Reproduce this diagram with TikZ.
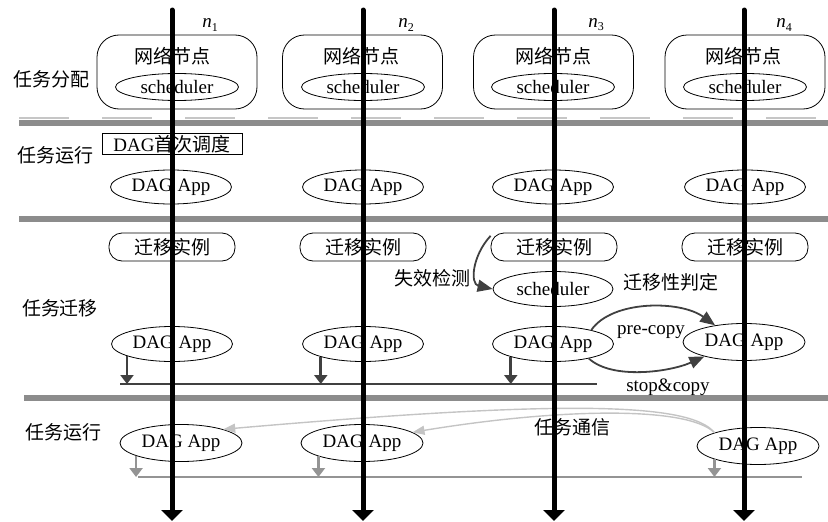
\documentclass[tikz,border=0pt]{standalone}
\usepackage{fontspec}
\setmainfont{Liberation Serif}
\newfontfamily\cjk{Noto Sans CJK SC}
\usetikzlibrary{arrows.meta,shapes.geometric}
\definecolor{bandgray}{HTML}{8C8C8C}
\definecolor{darkarr}{HTML}{404040}
\definecolor{midgray}{HTML}{949494}
\definecolor{lightarr}{HTML}{C4C4C4}
\tikzset{
  every node/.style={font=\fontsize{19}{22}\selectfont, inner sep=0pt},
  netbox/.style={draw, line width=0.8pt, rounded corners=22pt, minimum width=160pt, minimum height=74pt},
  sched/.style={draw, ellipse, line width=0.8pt, minimum width=123pt, minimum height=27pt},
  appell/.style={draw, ellipse, line width=0.8pt, minimum width=121pt, minimum height=34pt},
  pill/.style={draw, line width=0.8pt, rounded corners=13pt, minimum width=126pt, minimum height=28pt},
  firstbox/.style={draw, line width=0.8pt, minimum width=140pt, minimum height=21pt},
  lbl/.style={},
  band/.style={draw=bandgray, line width=6pt},
  vline/.style={line width=5pt, line cap=round, -{Triangle[length=11pt,width=21pt]}},
  darrow/.style={draw=darkarr, line width=2.6pt, -{Triangle[length=9pt,width=13pt]}},
  garrow/.style={draw=midgray, line width=2.6pt, -{Triangle[length=9pt,width=13pt]}},
  cdark/.style={draw=darkarr, line width=1.8pt, -{Triangle[length=15pt,width=12pt]}},
  clight/.style={draw=lightarr, line width=1.4pt, -{Triangle[length=12pt,width=9pt]}},
}
\begin{document}
\begin{tikzpicture}[x=1pt,y=-1pt]
\useasboundingbox (0,0) rectangle (828,522);
% row labels
\node[lbl] (r1) at (51,79) {\cjk 任务分配};
\node[lbl] (r2) at (55,155) {\cjk 任务运行};
\node[lbl] (r3) at (60,308) {\cjk 任务迁移};
\node[lbl] (r4) at (63,432) {\cjk 任务运行};
% node labels
\node[lbl] (n1) at (210,25) {\itshape n\raisebox{-0.35ex}{\upshape\fontsize{12}{12}\selectfont 1}};
\node[lbl] (n2) at (406,25) {\itshape n\raisebox{-0.35ex}{\upshape\fontsize{12}{12}\selectfont 2}};
\node[lbl] (n3) at (596,25) {\itshape n\raisebox{-0.35ex}{\upshape\fontsize{12}{12}\selectfont 3}};
\node[lbl] (n4) at (784,25) {\itshape n\raisebox{-0.35ex}{\upshape\fontsize{12}{12}\selectfont 4}};
% row 1
\node[netbox] (b1) at (177,72) {};
\node[netbox] (b2) at (362.5,72) {};
\node[netbox] (b3) at (553.5,72) {};
\node[netbox] (b4) at (745,72) {};
\node[lbl] (t1) at (172,56) {\cjk 网络节点};
\node[lbl] (t2) at (361,56) {\cjk 网络节点};
\node[lbl] (t3) at (553,56) {\cjk 网络节点};
\node[lbl] (t4) at (743,56) {\cjk 网络节点};
\node[sched] (s1) at (177,87) {scheduler};
\node[sched] (s2) at (363,87) {scheduler};
\node[sched] (s3x) at (553,87) {scheduler};
\node[sched] (s4) at (745,87) {scheduler};
% bands
\coordinate (bd0l) at (19,118); \coordinate (bd0r) at (828,118);
\draw[draw=gray!45, line width=1.5pt, dash pattern=on 50pt off 33pt] (bd0l) -- (bd0r);
\coordinate (bd1l) at (19,123); \coordinate (bd1r) at (828,123);
\coordinate (bd2l) at (19,219); \coordinate (bd2r) at (828,219);
\coordinate (bd3l) at (24,398); \coordinate (bd3r) at (828,398);
\draw[band] (bd1l) -- (bd1r);
\draw[band] (bd2l) -- (bd2r);
\draw[band] (bd3l) -- (bd3r);
% row 2
\node[firstbox] (fb) at (172,144) {DAG{\cjk 首次调度}};
\node[appell] (a21) at (171,187) {DAG App};
\node[appell] (a22) at (363,187) {DAG App};
\node[appell] (a23) at (553,187) {DAG App};
\node[appell] (a24) at (745,187) {DAG App};
% row 3
\node[pill] (p1) at (172,247) {\cjk 迁移实例};
\node[pill] (p2) at (363,247) {\cjk 迁移实例};
\node[pill] (p3) at (554,247) {\cjk 迁移实例};
\node[pill] (p4) at (745,247) {\cjk 迁移实例};
\node[appell, minimum height=35pt, minimum width=120pt] (s3) at (553,289) {scheduler};
\node[lbl] (fail) at (432,278) {\cjk 失效检测};
\node[lbl] (judge) at (671,282) {\cjk 迁移性判定};
\node[appell, minimum height=35pt] (a31) at (172,344) {DAG App};
\node[appell, minimum height=35pt] (a32) at (363,344) {DAG App};
\node[appell, minimum height=35pt] (a33) at (553,344) {DAG App};
\node[appell, minimum height=37pt, minimum width=122pt] (a34) at (744,342) {DAG App};
\node[lbl] (pre) at (651,332) {pre-copy};
\node[lbl] (stop) at (668,387) {stop\&copy};
\draw[cdark] (p3.170) .. controls (472,256) and (470,284) .. (s3.west);
\draw[cdark] (a33.20) .. controls (612,300) and (680,300) .. (a34.150);
\draw[cdark] (a33.-22) .. controls (612,380) and (670,372) .. (a34.200);
\coordinate (dll) at (120,384); \coordinate (dlr) at (597,384);
\draw[draw=darkarr, line width=2.8pt] (dll) -- (dlr);
\draw[darrow] (a31.195) -- (a31.195 |- dll);
\draw[darrow] (a32.197) -- (a32.197 |- dll);
\draw[darrow] (a33.197) -- (a33.197 |- dll);
% row 4
\node[appell, minimum height=37pt, minimum width=122pt] (a41) at (181,443) {DAG App};
\node[appell, minimum height=37pt, minimum width=122pt] (a42) at (362,443) {DAG App};
\node[appell, minimum height=37pt, minimum width=122pt] (a44) at (758,446) {DAG App};
\node[lbl] (comm) at (572,427) {\cjk 任务通信};
\coordinate (gll) at (138,477); \coordinate (glr) at (802,477);
\draw[draw=midgray, line width=2.8pt] (gll) -- (glr);
\draw[garrow] (a41.196) -- (a41.196 |- gll);
\draw[garrow] (a42.197) -- (a42.197 |- gll);
\draw[garrow] (a44.197) -- (a44.197 |- gll);
\draw[clight] (a44.163) .. controls (690,402) and (560,400) .. (a41.18);
\draw[clight] (a44.163) .. controls (688,406) and (560,408) .. (a42.12);
% vertical node lines
\coordinate (v1t) at (172,10); \coordinate (v1b) at (172,521);
\coordinate (v2t) at (363,10); \coordinate (v2b) at (363,521);
\coordinate (v3t) at (554,10); \coordinate (v3b) at (554,521);
\coordinate (v4t) at (744,10); \coordinate (v4b) at (744,521);
\draw[vline] (v1t) -- (v1b);
\draw[vline] (v2t) -- (v2b);
\draw[vline] (v3t) -- (v3b);
\draw[vline] (v4t) -- (v4b);
\end{tikzpicture}
\end{document}
